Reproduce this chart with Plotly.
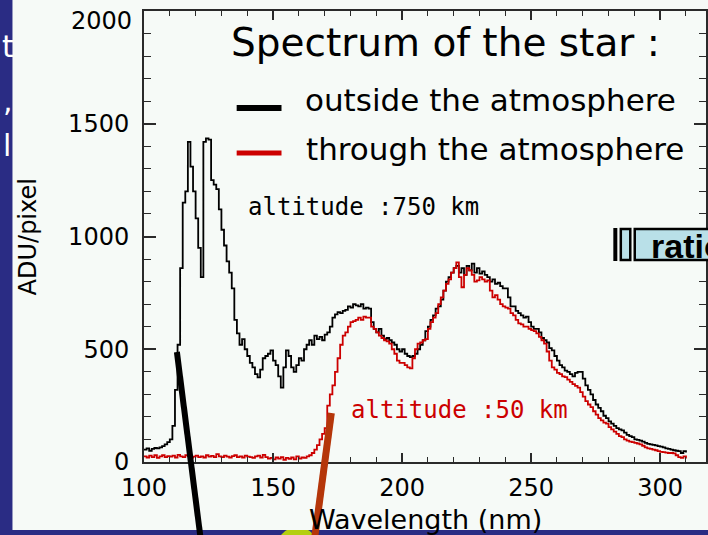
import plotly.graph_objects as go

# ---------------- data ----------------
wavelength = list(range(100, 311))

outside_atm = [
    55, 60, 50, 58, 62, 60, 65, 70, 78, 88,
    100, 160, 320, 520, 860, 1150, 1200, 1420, 1310, 1200,
    1080, 950, 820, 1420, 1435, 1430, 1250, 1230, 1210, 1120,
    1030, 960, 890, 840, 770, 630, 570, 520, 545, 500,
    470, 440, 420, 390, 375, 410, 460, 470, 480, 495,
    450, 430, 380, 330, 420, 495, 470, 420, 400, 430,
    460, 450, 500, 520, 540, 520, 560, 545, 555, 540,
    565, 575, 600, 640, 655, 665, 660, 670, 675, 690,
    685, 700, 695, 690, 700, 680, 685, 680, 620, 590,
    575, 590, 560, 545, 550, 540, 530, 520, 500, 490,
    500, 480, 470, 465, 470, 480, 500, 520, 540, 580,
    600, 630, 650, 680, 690, 720, 760, 800, 820, 840,
    860, 870, 840, 860, 830, 870, 850, 880, 840, 860,
    835, 845, 830, 820, 800, 810, 790, 795, 780, 770,
    770, 730, 690, 690, 670, 660, 650, 640, 645, 620,
    600, 590, 590, 575, 550, 540, 530, 505, 495, 470,
    450, 430, 420, 405, 400, 390, 380, 395, 400, 400,
    370, 340, 320, 300, 275, 255, 240, 225, 205, 195,
    180, 170, 160, 150, 145, 140, 130, 120, 115, 110,
    100, 98, 95, 90, 85, 80, 78, 76, 74, 70,
    68, 65, 60, 58, 55, 52, 50, 48, 40, 48,
    42,
]

through_atm = [
    25, 20, 28, 22, 30, 18, 25, 30, 22, 26,
    24, 28, 20, 32, 25, 22, 30, 26, 20, 24,
    28, 22, 25, 20, 30, 24, 27, 22, 35, 25,
    22, 28, 24, 20, 26, 30, 22, 25, 20, 28,
    24, 22, 18, 25, 28, 20, 32, 22, 15, 18,
    12, 20, 15, 22, 10, 18, 14, 20, 12, 25,
    15, 20, 18, 25, 30, 40, 55, 75, 100, 125,
    150, 250, 300, 340, 400, 460, 520, 560, 575, 600,
    620, 625, 630, 640, 630, 645, 640, 640, 600, 590,
    575, 560, 550, 540, 535, 525, 500, 480, 450, 440,
    440, 430, 420, 415, 460, 500, 525, 530, 540, 545,
    590, 620, 640, 660, 700, 730, 760, 790, 810, 840,
    860, 885, 820, 775, 830, 860, 850, 830, 800, 805,
    820, 810, 800, 805, 760, 730, 740, 720, 700, 690,
    685, 680, 660, 650, 630, 615, 610, 600, 600, 590,
    585, 580, 570, 555, 540, 525, 490, 450, 420, 410,
    395, 390, 380, 376, 365, 355, 345, 338, 330, 310,
    290, 270, 255, 243, 225, 210, 195, 185, 175, 170,
    155, 145, 135, 125, 115, 110, 100, 95, 90, 88,
    85, 82, 78, 72, 65, 60, 58, 55, 52, 48,
    45, 44, 42, 40, 40, 38, 30, 22, 18, 25,
    15,
]

x_ticks = [100, 150, 200, 250, 300]
y_ticks = [0, 500, 1000, 1500, 2000]
y_tick_labels = ["0", "500", "1000", "1500", ""]  # top label drawn separately

# ---------------- layout helpers ----------------
W, H = 708, 535
L, T, B = 144, 11, 73
PW, PH = W - L, H - T - B


def px(x):
    return (x - L) / PW


def py(y):
    return (H - B - y) / PH


DARK_BLUE = "#2a2c84"
PANEL = "#f6faf7"
RED = "#cc0000"
AXIS = "#2a2a2a"

fig = go.Figure()
fig.add_trace(go.Scatter(x=wavelength, y=outside_atm, mode="lines",
                         line=dict(color="black", width=1.8, shape="hv"),
                         showlegend=False, hoverinfo="skip"))
fig.add_trace(go.Scatter(x=wavelength, y=through_atm, mode="lines",
                         line=dict(color=RED, width=1.8, shape="hv"),
                         showlegend=False, hoverinfo="skip"))

shapes = [
    # slide decoration blob (behind panel)
    dict(type="circle", xref="paper", yref="paper", layer="below",
         x0=px(276), x1=px(320), y0=py(527), y1=py(575),
         fillcolor="#b4cf10", line=dict(width=0)),
    # white slide panel
    dict(type="rect", xref="paper", yref="paper", layer="below",
         x0=px(12), x1=px(720), y0=py(530), y1=py(-5),
         fillcolor=PANEL, line=dict(width=0)),
    # legend samples
    dict(type="line", xref="paper", yref="paper", layer="above",
         x0=px(237), x1=px(282), y0=py(108), y1=py(108),
         line=dict(color="black", width=6)),
    dict(type="line", xref="paper", yref="paper", layer="above",
         x0=px(237), x1=px(282), y0=py(153), y1=py(153),
         line=dict(color=RED, width=5)),
    # ratio widget
    dict(type="rect", xref="paper", yref="paper", layer="above",
         x0=px(615), x1=px(619), y0=py(261), y1=py(228),
         fillcolor="black", line=dict(width=0)),
    dict(type="rect", xref="paper", yref="paper", layer="above",
         x0=px(622.5), x1=px(632), y0=py(260), y1=py(229),
         fillcolor="#b9e0e8", line=dict(color="black", width=2.5)),
    dict(type="rect", xref="paper", yref="paper", layer="above",
         x0=px(636.5), x1=px(730), y0=py(260), y1=py(229),
         fillcolor="#b9e0e8", line=dict(color="black", width=2.5)),
    # slide pointer lines
    dict(type="line", xref="paper", yref="paper", layer="above",
         x0=px(177), x1=px(201), y0=py(352), y1=py(540),
         line=dict(color="black", width=6)),
    dict(type="line", xref="paper", yref="paper", layer="above",
         x0=px(332), x1=px(315), y0=py(413), y1=py(540),
         line=dict(color="#b5360a", width=7)),
]

ann = []


def text(s, x, y, size, color="black", family="DejaVu Sans", xanchor="left",
         yanchor="middle", angle=0, pad=1):
    ann.append(dict(text=s, x=px(x), y=py(y), xref="paper", yref="paper",
                    showarrow=False, xanchor=xanchor, yanchor=yanchor,
                    textangle=angle, borderpad=pad,
                    font=dict(size=size, color=color, family=family)))


text("Spectrum of the star :", 229, 42, 39)
text("outside the atmosphere", 304, 100, 31)
text("through the atmosphere", 305, 149, 31)
text("altitude :750 km", 246, 207, 24, family="DejaVu Sans Mono")
text("altitude :50 km", 350, 410, 24, color=RED, family="DejaVu Sans Mono")
text("ADU/pixel", 28, 237, 24, xanchor="center", angle=-90)
text("Wavelength (nm)", 426, 519, 27, xanchor="center")
text("2000", 134, 21, 24, xanchor="right")
text("<b>ratio</b>", 651, 246, 34, family="Liberation Sans")
# fragments of slide text at the left edge
text("t", 0, 46, 30, color="white", pad=0)
text(",", 1, 100, 30, color="white", pad=0)
text("l", 1, 145, 30, color="white", pad=0)

fig.update_layout(
    width=W, height=H,
    margin=dict(l=L, r=0, t=T, b=B, pad=0),
    paper_bgcolor=DARK_BLUE,
    plot_bgcolor=PANEL,
    shapes=shapes,
    annotations=ann,
    showlegend=False,
    xaxis=dict(range=[100, 100 + PW / 2.59], tickvals=x_ticks,
               ticktext=[str(v) for v in x_ticks],
               ticks="inside", ticklen=9, tickwidth=1.5, tickcolor=AXIS,
               showline=True, linecolor=AXIS, linewidth=2, mirror="ticks",
               showgrid=False, zeroline=False,
               tickfont=dict(family="DejaVu Sans", size=24, color="black"),
               ticklabelstandoff=3,
               minor=dict(dtick=10, tick0=100, ticks="inside", ticklen=5,
                          tickwidth=1.2, tickcolor=AXIS, showgrid=False)),
    yaxis=dict(range=[0, 2000], tickvals=y_ticks,
               ticktext=y_tick_labels,
               ticks="inside", ticklen=12, tickwidth=1.5, tickcolor=AXIS,
               showline=True, linecolor=AXIS, linewidth=2, mirror="ticks",
               showgrid=False, zeroline=False,
               tickfont=dict(family="DejaVu Sans", size=24, color="black"),
               ticklabelstandoff=8,
               minor=dict(dtick=100, tick0=0, ticks="inside", ticklen=7,
                          tickwidth=1.2, tickcolor=AXIS, showgrid=False)),
)

fig.write_html("out.html")
